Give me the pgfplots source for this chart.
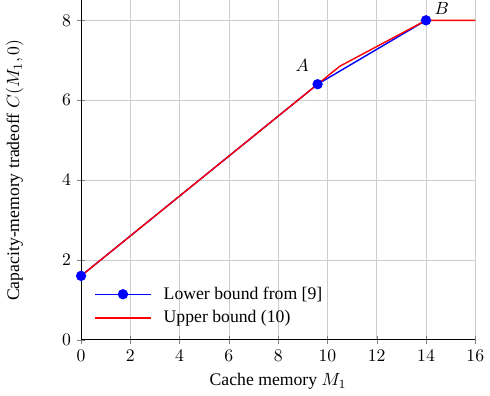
\documentclass[border=0pt]{standalone}
\usepackage{pgfplots}
\pgfplotsset{compat=1.18}
\usepackage{fontspec}
\setmainfont{Liberation Serif}
\begin{document}
\begin{tikzpicture}
\begin{axis}[
  scale only axis,
  width=223pt, height=192pt,
  xmin=0, xmax=16, ymin=0, ymax=8.5,
  xtick={0,2,...,16}, ytick={0,2,...,8},
  axis x line=bottom, axis y line=left,
  axis line style={-},
  grid=major,
  major grid style={gray!40},
  xlabel={Cache memory $M_1$},
  ylabel={Capacity-memory tradeoff $C(M_1,0)$},
  ylabel style={yshift=15pt},
  legend style={at={(0.02,0.02)}, anchor=south west, draw=none, fill=none,
    /tikz/every odd column/.append style={column sep=5pt},
    row sep=1pt},
  legend cell align=left,
  legend image code/.code={\draw[mark repeat=2,mark phase=2,#1] plot coordinates {(0cm,0cm) (0.55cm,0cm) (1.1cm,0cm)};},
]
\addplot[color=blue, line width=0.8pt, mark=*, mark size=2.5pt] coordinates {(0,1.6) (9.6,6.4) (14,8)};
\addlegendentry{Lower bound from [9]}
\addplot[color=red, line width=0.8pt, mark=none] coordinates {(0,1.6) (9.6,6.4) (10.5,6.85) (14,8) (16,8)};
\addlegendentry{Upper bound (10)}
\node[anchor=south east] at (axis cs:9.5,6.55) {$A$};
\node[anchor=south west] at (axis cs:14.1,8.0) {$B$};
\end{axis}
\end{tikzpicture}
\end{document}
